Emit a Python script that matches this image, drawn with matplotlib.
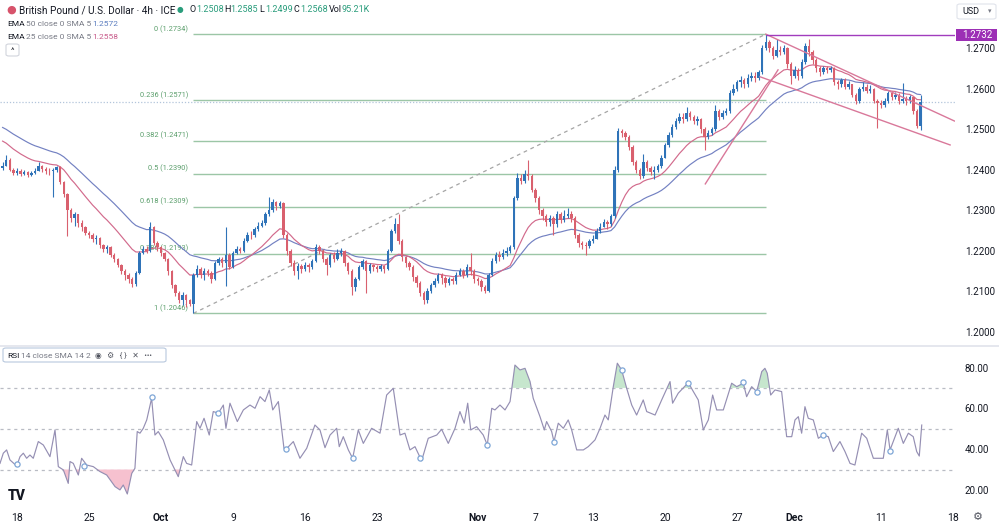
import numpy as np
import matplotlib.pyplot as plt
from matplotlib.patches import FancyBboxPatch
from matplotlib.lines import Line2D

plt.rcParams['font.family'] = ['Roboto', 'DejaVu Sans']

# GBP/USD 4h at 4 candles per trading day.
# time axis = trading days counted from Mon 18 Sep 2023, prices in pips above 1.2000
first_open = 405
close_pips = [
    410, 425, 400, 392, 398, 390, 395, 388, 392, 398,
    410, 402, 398, 396, 400, 406, 370, 340, 300, 280,
    290, 268, 258, 245, 240, 228, 232, 215, 205, 210,
    190, 180, 165, 150, 140, 130, 118, 145, 195, 205,
    200, 260, 220, 210, 195, 180, 150, 115, 95, 80,
    90, 78, 70, 140, 155, 140, 150, 145, 130, 170,
    180, 170, 190, 160, 195, 205, 200, 225, 240, 238,
    255, 262, 268, 290, 300, 320, 310, 318, 240, 200,
    170, 150, 162, 155, 165, 160, 175, 210, 200, 180,
    165, 190, 180, 195, 200, 170, 150, 110, 130, 160,
    175, 150, 165, 160, 155, 162, 155, 200, 250, 265,
    225, 185, 170, 160, 135, 120, 95, 80, 100, 115,
    125, 140, 132, 120, 130, 125, 140, 150, 140, 160,
    150, 130, 125, 110, 100, 140, 175, 190, 185, 195,
    200, 210, 330, 380, 372, 390, 385, 350, 330, 300,
    285, 270, 280, 265, 290, 275, 285, 290, 280, 240,
    220, 215, 212, 225, 230, 250, 260, 270, 265, 285,
    400, 495, 490, 480, 455, 420, 400, 385, 420, 405,
    395, 400, 410, 430, 460, 485, 505, 520, 530, 525,
    540, 530, 520, 525, 500, 480, 490, 500, 545, 530,
    540, 545, 590, 600, 615, 620, 610, 625, 630, 625,
    640, 700, 715, 700, 680, 695, 690, 700, 660, 630,
    645, 630, 665, 705, 690, 670, 650, 640, 650, 645,
    650, 615, 610, 620, 605, 610, 585, 570, 600, 605,
    595, 600, 570, 565, 560, 570, 590, 580, 585, 570,
    575, 570, 578, 545, 508, 568,
]
high_pips = [
    418, 436, 428, 403, 405, 402, 400, 398, 397, 404,
    420, 412, 406, 403, 405, 410, 408, 372, 342, 305,
    296, 292, 275, 262, 250, 244, 238, 234, 218, 214,
    212, 195, 182, 168, 155, 145, 135, 150, 200, 212,
    212, 270, 262, 225, 212, 198, 182, 152, 118, 100,
    98, 94, 82, 145, 165, 160, 158, 156, 150, 175,
    186, 184, 259, 195, 200, 212, 210, 232, 246, 248,
    260, 270, 275, 296, 333, 328, 322, 324, 320, 245,
    205, 178, 170, 168, 172, 170, 180, 218, 215, 204,
    185, 195, 198, 205, 208, 202, 172, 155, 135, 165,
    180, 178, 170, 168, 165, 168, 165, 205, 255, 280,
    290, 228, 188, 175, 165, 140, 125, 100, 108, 122,
    132, 145, 145, 138, 136, 135, 148, 158, 155, 168,
    195, 155, 135, 130, 115, 145, 182, 198, 200, 205,
    210, 215, 335, 392, 390, 400, 424, 390, 355, 335,
    305, 290, 288, 285, 298, 295, 300, 306, 298, 285,
    245, 225, 222, 230, 238, 256, 268, 278, 276, 292,
    408, 503, 500, 495, 485, 460, 425, 405, 438, 425,
    410, 408, 415, 436, 466, 492, 512, 528, 540, 540,
    555, 545, 535, 532, 528, 505, 498, 506, 560, 550,
    546, 552, 597, 610, 622, 630, 625, 635, 640, 640,
    645, 708, 734, 720, 705, 722, 705, 708, 702, 665,
    655, 650, 672, 712, 722, 695, 675, 655, 655, 655,
    656, 652, 622, 625, 625, 618, 612, 590, 605, 615,
    610, 608, 602, 575, 572, 576, 595, 595, 592, 590,
    614, 582, 585, 580, 550, 585,
]
low_pips = [
    400, 408, 396, 386, 388, 385, 386, 382, 384, 390,
    396, 395, 390, 388, 333, 394, 365, 332, 236, 272,
    262, 260, 248, 238, 232, 222, 218, 208, 198, 195,
    185, 172, 160, 142, 128, 120, 110, 114, 142, 192,
    195, 198, 215, 200, 188, 175, 140, 108, 88, 72,
    66, 62, 64, 47, 135, 132, 128, 138, 122, 128,
    165, 160, 114, 155, 158, 192, 195, 198, 222, 230,
    234, 250, 258, 264, 285, 295, 300, 305, 232, 190,
    162, 140, 130, 145, 150, 148, 155, 172, 192, 172,
    140, 160, 172, 178, 188, 162, 142, 92, 100, 128,
    155, 96, 145, 150, 148, 150, 145, 152, 198, 245,
    218, 175, 160, 152, 125, 112, 88, 68, 72, 95,
    112, 120, 118, 112, 115, 118, 118, 138, 132, 135,
    140, 122, 115, 100, 96, 98, 138, 170, 175, 180,
    188, 195, 205, 325, 365, 368, 375, 345, 320, 292,
    275, 262, 262, 240, 258, 268, 272, 280, 272, 232,
    210, 205, 190, 208, 220, 228, 245, 258, 255, 262,
    282, 395, 480, 472, 448, 412, 392, 377, 380, 398,
    388, 378, 395, 405, 428, 455, 480, 500, 515, 516,
    520, 522, 512, 510, 490, 449, 475, 485, 495, 522,
    525, 535, 540, 585, 595, 605, 602, 605, 618, 615,
    620, 636, 695, 690, 672, 678, 682, 685, 650, 610,
    625, 622, 625, 660, 680, 660, 640, 632, 635, 638,
    640, 608, 600, 605, 598, 600, 578, 562, 565, 595,
    588, 590, 565, 503, 552, 555, 565, 572, 575, 562,
    565, 560, 565, 538, 503, 499,
]
ema50_start = 1.2510
ema25_start = 1.2478

rsi_day = [
    -1.18, -0.95, -0.72, -0.49, -0.02, 0.21, 0.44, 0.67, 0.90, 1.13,
    1.48, 1.83, 2.29, 2.64, 2.87, 3.22, 3.56, 3.68, 3.91, 4.26,
    4.49, 4.84, 5.30, 5.76, 6.23, 6.81, 7.15, 7.38, 7.66, 7.97,
    8.19, 8.35, 8.54, 8.77, 9.01, 9.35, 9.58, 9.81, 10.16, 10.63,
    11.20, 11.55, 11.78, 12.13, 12.48, 12.71, 12.99, 13.35, 13.63, 13.98,
    14.33, 14.51, 14.79, 15.30, 15.72, 16.18, 16.53, 16.88, 17.22, 17.52,
    17.76, 18.15, 18.54, 18.68, 19.19, 19.65, 20.12, 20.69, 21.04, 21.39,
    21.74, 22.20, 22.38, 22.66, 23.01, 23.31, 23.70, 24.05, 24.63, 25.21,
    25.67, 26.13, 26.60, 26.94, 27.29, 27.64, 28.10, 28.56, 29.15, 29.49,
    29.95, 30.42, 30.76, 31.06, 31.30, 31.51, 31.92, 32.38, 32.66, 32.97,
    33.19, 33.54, 33.89, 34.24, 34.58, 34.93, 35.28, 35.63, 35.85, 36.32,
    36.62, 36.78, 37.13, 37.29, 37.59, 37.94, 38.28, 38.52, 38.87, 39.33,
    39.67, 40.14, 40.49, 40.83, 41.06, 41.41, 41.69, 41.99, 42.34, 42.69,
    43.03, 43.49, 43.73, 44.31, 44.77, 45.35, 45.53, 45.92, 46.62, 46.97,
    47.31, 47.66, 48.01, 48.31, 48.59, 49.05, 49.63, 49.98, 50.44, 50.67,
    51.02, 51.37, 51.72, 51.94, 52.10, 52.34, 52.64, 53.10, 53.45, 53.80,
    54.03, 54.26, 54.49, 54.72, 54.95, 55.30, 55.65, 55.99, 56.34, 56.69,
    57.15, 57.50, 57.85, 58.19, 58.66, 59.01, 59.47, 60.16, 60.44, 60.63,
    61.20, 61.55, 61.90, 62.24, 62.48, 62.66, 62.83,
]
rsi_val = [
    33.0, 38.0, 39.6, 34.7, 31.7, 36.3, 38.0, 35.5, 37.1, 35.5,
    43.7, 42.0, 36.3, 49.4, 31.4, 29.8, 23.2, 33.9, 33.0, 27.3,
    35.5, 32.2, 31.4, 29.0, 27.3, 21.6, 20.0, 22.4, 18.0, 28.1,
    30.6, 48.6, 47.8, 50.2, 54.3, 64.9, 46.9, 48.6, 44.5, 34.7,
    26.5, 36.3, 33.0, 32.2, 53.5, 50.2, 55.1, 46.9, 58.4, 57.6,
    61.6, 50.2, 62.5, 53.5, 59.2, 61.6, 60.0, 65.7, 63.3, 69.0,
    59.2, 63.3, 40.4, 39.9, 43.7, 35.5, 40.4, 51.8, 49.4, 40.7,
    46.9, 50.2, 41.2, 46.1, 39.6, 35.5, 49.4, 42.8, 50.2, 47.8,
    66.5, 69.8, 46.9, 47.8, 39.6, 41.2, 34.3, 45.3, 46.9, 49.7,
    42.8, 50.2, 58.4, 52.7, 62.5, 49.4, 51.0, 46.9, 42.0, 60.0,
    59.2, 61.6, 59.2, 63.3, 81.2, 78.8, 79.6, 73.1, 64.9, 55.9,
    49.4, 53.5, 48.6, 43.7, 52.7, 50.2, 54.3, 49.4, 39.6, 39.6,
    41.2, 44.5, 50.2, 56.7, 54.3, 70.6, 82.1, 78.8, 69.8, 61.6,
    56.7, 64.1, 58.4, 56.7, 64.1, 73.1, 62.5, 67.4, 72.6, 68.2,
    64.1, 49.4, 54.3, 66.5, 59.2, 59.2, 72.3, 70.6, 72.3, 65.7,
    70.6, 68.2, 78.0, 79.6, 77.2, 66.5, 69.0, 68.2, 46.1, 46.1,
    54.3, 55.9, 47.8, 60.8, 55.1, 54.3, 45.3, 46.9, 46.1, 38.8,
    43.7, 38.8, 33.0, 32.2, 47.8, 45.3, 35.5, 35.5, 49.4, 39.6,
    50.2, 42.8, 47.8, 46.1, 38.8, 36.6, 51.8,
]
rsi_mark_day = [0.0, 4.65, 9.38, 13.96, 18.68, 23.33, 27.99, 32.64,
                37.29, 42.01, 46.60, 50.42, 51.39, 55.97, 60.63]
rsi_mark_val = [32.5, 31.9, 65.7, 57.6, 39.9, 35.5, 35.5, 42.0,
                43.7, 78.8, 72.6, 73.1, 68.2, 46.9, 39.2]

fib_ratio = ['0', '0.236', '0.382', '0.5', '0.618', '0.786', '1']
fib_price = [1.2734, 1.2571, 1.2471, 1.2390, 1.2309, 1.2193, 1.2046]
fib_start, fib_end = 12.25, 52.0

# drawn trendlines: (day, price) pairs
channel_top = ([52.0, 65.1], [1.2734, 1.2520])
channel_bottom = ([51.6, 64.8], [1.2629, 1.2461])
rising_line = ([47.8, 52.85], [1.2365, 1.2646])
resistance = 1.2732
last_price = 1.2568

day_ticks = [0, 5, 10, 15, 20, 25, 32, 36, 40, 45, 50, 54, 60, 65]
day_labels = ['18', '25', 'Oct', '9', '16', '23', 'Nov', '7', '13', '20', '27', 'Dec', '11', '18']

# ---------------------------------------------------------------
closes = 1.2 + np.array(close_pips) / 1e4
highs = 1.2 + np.array(high_pips) / 1e4
lows = 1.2 + np.array(low_pips) / 1e4
opens = np.r_[1.2 + first_open / 1e4, closes[:-1]]
t = -1 + np.arange(len(closes)) * 0.25


def ema(values, period, seed):
    out, e = [], seed
    a = 2.0 / (period + 1)
    for v in values:
        e += a * (v - e)
        out.append(e)
    return np.array(out)


# periods scaled to 4 candles a day (50 and 25 bars of the 6-a-day chart)
ema50 = ema(closes, 33, ema50_start)
ema25 = ema(closes, 17, ema25_start)

W, H = 999, 524
fig = plt.figure(figsize=(W / 100, H / 100), dpi=100)


def px_axes(x0, y0, x1, y1):
    return fig.add_axes([x0 / W, 1 - y1 / H, (x1 - x0) / W, (y1 - y0) / H])


def ftext(x, y, s, **kw):
    kw.setdefault('va', 'center')
    return fig.text(x / W, 1 - y / H, s, **kw)


UP, DOWN = '#2f73b8', '#d9606e'
TXT = '#131722'
FIB_LINE, FIB_TXT = '#9cc6a6', '#5a9e6b'

ax = px_axes(0, 0, 955, 345)
ax.set_xlim(-1.18, 65.14)
ax.set_ylim(1.19680, 1.28182)

# fibonacci retracement
for r, p in zip(fib_ratio, fib_price):
    ax.hlines(p, fib_start, fib_end, color=FIB_LINE, lw=1.0, zorder=1)
    ax.annotate(f'{r} ({p:.4f})', (fib_start, p), xytext=(-5, 5),
                textcoords='offset pixels', ha='right', va='center',
                fontsize=5.3, color=FIB_TXT, zorder=2)
ax.plot([fib_start, fib_end], [fib_price[-1], fib_price[0]], color='#a5a5a5',
        lw=0.9, ls=(0, (3, 3)), zorder=1)

ax.axhline(last_price, color='#b3c5db', lw=0.9, ls=(0, (1, 1.5)), zorder=1)

ax.plot(t, ema50, color='#7381c2', lw=0.85, zorder=3)
ax.plot(t, ema25, color='#d26a8c', lw=0.85, zorder=3)

colors = np.where(closes >= opens, UP, DOWN)
ax.vlines(t, lows, highs, colors=colors, lw=0.8, zorder=4)
body = np.maximum(np.abs(closes - opens), 0.00012)
ax.bar(t, body, bottom=np.minimum(opens, closes), width=0.16, color=colors,
       lw=0, zorder=4)

for xs, ys in (channel_top, channel_bottom, rising_line):
    ax.plot(xs, ys, color='#d9789a', lw=1.0, zorder=5)
ax.hlines(resistance, fib_end, 65.14, color='#a13cbd', lw=1.0, zorder=5)

ax.yaxis.tick_right()
ax.set_yticks(np.arange(1.20, 1.2701, 0.01))
ax.set_yticklabels([f'{v:.4f}' for v in np.arange(1.20, 1.2701, 0.01)])
ax.tick_params(axis='y', length=0, pad=7, labelsize=7, labelcolor=TXT)
ax.set_xticks([])
for s in ax.spines.values():
    s.set_visible(False)

# RSI panel
rax = px_axes(0, 347, 955, 505)
rax.set_xlim(-1.18, 65.14)
rax.set_ylim(12.6, 90.05)
rv = np.array(rsi_val)
rd = np.array(rsi_day)
for lvl in (70, 50, 30):
    rax.axhline(lvl, color='#b9bcc4', lw=0.9, ls=(0, (2.5, 3)), zorder=1)
rax.fill_between(rd, rv, 70, where=rv > 70, interpolate=True, color='#c6e6cd',
                 lw=0, zorder=2)
rax.fill_between(rd, rv, 30, where=rv < 30, interpolate=True, color='#f6c1cf',
                 lw=0, zorder=2)
rax.plot(rd, rv, color='#958fb3', lw=0.85, zorder=3)
rax.scatter(rsi_mark_day, rsi_mark_val, s=14, facecolor='white',
            edgecolor='#7ea6d6', lw=0.9, zorder=4)
rax.yaxis.tick_right()
rax.set_yticks([20, 40, 60, 80])
rax.set_yticklabels(['20.00', '40.00', '60.00', '80.00'])
rax.tick_params(axis='y', length=0, pad=7, labelsize=7, labelcolor=TXT)
rax.set_xticks(day_ticks)
rax.set_xticklabels(day_labels)
rax.tick_params(axis='x', length=0, pad=6, labelsize=7.5, labelcolor=TXT)
for lab in rax.get_xticklabels():
    if lab.get_text() in ('Oct', 'Nov', 'Dec'):
        lab.set_fontweight('bold')
for s in rax.spines.values():
    s.set_visible(False)

fig.add_artist(Line2D([0, 1], [1 - 346 / H] * 2, color='#e0e3eb', lw=1.2))

# header
ftext(11, 10, '●', color='#d7536b', fontsize=8, ha='center')
ftext(19, 10, 'British Pound / U.S. Dollar · 4h · ICE', fontsize=7.2, color=TXT)
ftext(180, 10, '●', color='#2a9d7c', fontsize=5.5, ha='center')
for i, (k, v) in enumerate([('O', '1.2508'), ('H', '1.2585'), ('L', '1.2499'),
                            ('C', '1.2568')]):
    x0 = 190 + i * 34.6
    ftext(x0, 10, k, fontsize=6.5, color=TXT)
    ftext(x0 + 6, 10, v, fontsize=6.5, color='#2a9d7c')
ftext(329, 10, 'Vol', fontsize=6.5, color=TXT)
ftext(342, 10, '95.21K', fontsize=6.5, color='#2a9d7c')
for y, n, val, col in ((24, '50', '1.2572', '#5d7fc0'),
                       (37, '25', '1.2558', '#c85a8a')):
    ftext(7, y, 'EMA', fontsize=6, color=TXT)
    ftext(26, y, f'{n} close 0 SMA 5', fontsize=6, color='#787b86')
    ftext(92, y, val, fontsize=6, color=col)
fig.add_artist(FancyBboxPatch((6 / W, 1 - 56 / H), 13 / W, 12 / H,
                              boxstyle='round,pad=0,rounding_size=0.003',
                              fc='white', ec='#d1d4dc', lw=0.8))
ftext(12.5, 51, '^', fontsize=6, color=TXT, ha='center')

fig.add_artist(FancyBboxPatch((957 / W, 1 - 19 / H), 39 / W, 15 / H,
                              boxstyle='round,pad=0,rounding_size=0.003',
                              fc='white', ec='#e0e3eb', lw=0.8))
ftext(962, 11.5, 'USD', fontsize=6.5, color=TXT)
ftext(990, 11.5, '▾', fontsize=5, color='#787b86', ha='center')

fig.add_artist(FancyBboxPatch((956 / W, 1 - 41 / H), 41 / W, 12 / H,
                              boxstyle='square,pad=0', fc='#9c2fb5', ec='none'))
ftext(962, 35, f'{resistance:.4f}', fontsize=7, color='white')

# RSI legend
fig.add_artist(FancyBboxPatch((3 / W, 1 - 362 / H), 163 / W, 14 / H,
                              boxstyle='round,pad=0,rounding_size=0.003',
                              fc='white', ec='#b8c8de', lw=0.8))
ftext(7, 355.5, 'RSI', fontsize=6, color=TXT)
ftext(21, 355.5, '14 close SMA 14 2', fontsize=6, color='#787b86')
ftext(95, 355.5, '◉   ⚙   { }   ✕   •••', fontsize=5.5, color='#50535e')

ftext(8, 496, 'TV', fontsize=10, fontweight='heavy', color=TXT)
ftext(978, 517, '⚙', fontsize=8, color='#50535e', ha='center')

fig.savefig('out.png', dpi=100)
